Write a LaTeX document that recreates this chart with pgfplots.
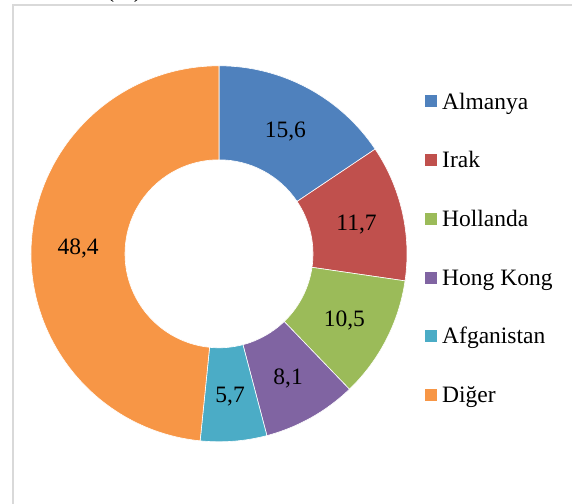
\documentclass[border=0pt]{standalone}
\usepackage{pgfplots}
\pgfplotsset{compat=1.18}
\usepackage{fontspec}
\setmainfont{Liberation Serif}
\definecolor{cA}{HTML}{4F81BD}
\definecolor{cB}{HTML}{C0504D}
\definecolor{cC}{HTML}{9BBB59}
\definecolor{cD}{HTML}{8064A2}
\definecolor{cE}{HTML}{4BACC6}
\definecolor{cF}{HTML}{F79646}
\definecolor{frame}{HTML}{D9D9D9}
\tikzset{lab/.style={font=\fontsize{23.5}{28}\selectfont, inner sep=0pt, text=black}}
\begin{document}
\begin{tikzpicture}[x=1pt,y=1pt]
\useasboundingbox (0,0) rectangle (572,503);
\clip (0,0) rectangle (572,503);
\draw[line width=2pt, draw=frame] (13,-5) -- (13,498) -- (580,498);
\node[lab, anchor=base] at (124,505.1) {(\%)};
\begin{axis}[x=1pt,y=1pt, hide axis, xmin=-219, xmax=353, ymin=-249.2, ymax=253.8,
  at={(0,0)}, anchor=south west, clip=false]
\xdef\angstart{90}
\foreach \v/\c in {15.6/cA,11.7/cB,10.5/cC,8.1/cD,5.7/cE,48.4/cF}{
  \pgfmathsetmacro\angend{\angstart-3.6*\v}
  \pgfmathsetmacro\angmid{(\angstart+\angend)/2}
  \edef\temp{\noexpand\filldraw[fill=\c, draw=white, line width=0.6pt]
    (axis cs:{188*cos(\angstart)},{188*sin(\angstart)})
    arc[start angle=\angstart, end angle=\angend, radius=188pt]
    -- (axis cs:{94*cos(\angend)},{94*sin(\angend)})
    arc[start angle=\angend, end angle=\angstart, radius=94pt] -- cycle;
    \noexpand\node[lab, anchor=base, yshift=-7.8pt] at (axis cs:{141*cos(\angmid)},{141*sin(\angmid)})
    {\noexpand\pgfmathprintnumber[use comma,fixed,fixed zerofill,precision=1,assume math mode=true]{\v}};}
  \temp
  \xdef\angstart{\angend}
}
\end{axis}
% legend
\foreach \c/\t [count=\i from 0] in {cA/Almanya,cB/Irak,cC/Hollanda,cD/Hong Kong,cE/Afganistan,cF/Diğer}{
  \pgfmathsetmacro\yc{503-(101.5+58.7*\i)}
  \fill[\c] (425,\yc-6) rectangle (437,\yc+6);
  \node[lab, anchor=base west] at (442,\yc-7.7) {\t};
}
\end{tikzpicture}
\end{document}
